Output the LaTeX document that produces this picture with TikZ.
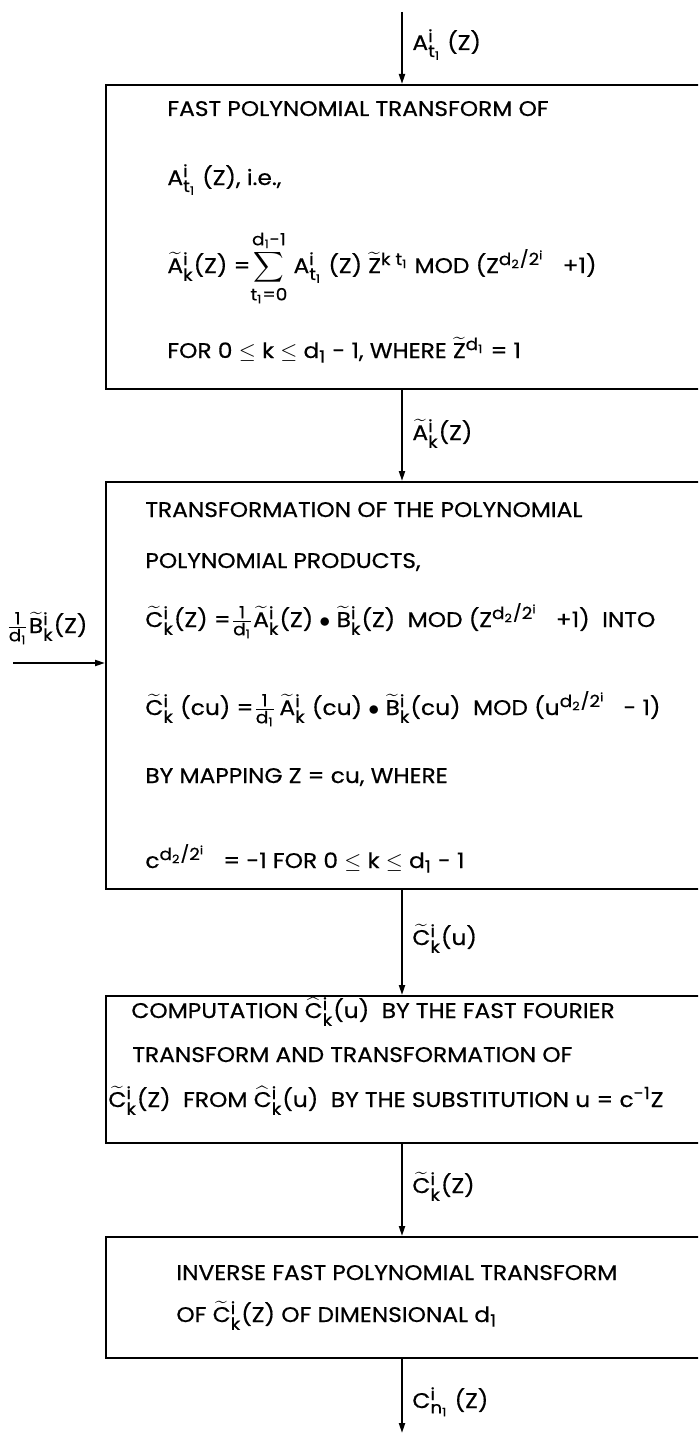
\documentclass[tikz,border=0pt]{standalone}
\usepackage{amsmath,amssymb}
\usepackage{fontspec}
\setmainfont{Poppins}[FakeStretch=1.1, FakeBold=0.5]
\DeclareMathSizes{10.6}{10.6}{8.4}{7}
\usetikzlibrary{arrows.meta,positioning}
\newcommand\spx[1]{\ensuremath{^{\text{#1}}}}
\newcommand\sbx[1]{\ensuremath{_{\text{#1}}}}
\newcommand\spb[2]{\ensuremath{^{\text{#1}}_{\text{#2}}}}
\newcommand\tld[1]{\ensuremath{\widetilde{\text{#1}}}}
\newcommand\hht[1]{\ensuremath{\widehat{\text{#1}}}}
\newcommand\frd{$\frac{\text{1}}{\text{d\sbx{1}}}$}

\begin{document}
\begin{tikzpicture}[x=0.5pt, y=-0.5pt,
    blk/.style={draw, line width=1pt, anchor=north west, inner sep=0pt, minimum width=310pt},
    txt/.style={anchor=base west, inner sep=0pt, font=\fontsize{10.6}{12}\selectfont},
    arr/.style={-{Triangle[length=5pt,width=3pt]}, line width=1pt}
]
\useasboundingbox (0,0) rectangle (698,1434);
\clip (0,0) rectangle (698,1434);

\node[blk, minimum height=152pt] (b1) at (105,84) {};
\node[blk, minimum height=203.5pt] (b2) at (105,481) {};
\node[blk, minimum height=73.5pt] (b3) at (105,995) {};
\node[blk, minimum height=60.5pt] (b4) at (105,1236) {};

\coordinate (in1) at (402,12);
\coordinate (out4) at (402,1433);
\coordinate (inB) at (13,663);

\draw[arr] (in1) -- (in1 |- b1.north);
\draw[arr] (b1.south -| in1) -- (b2.north -| in1);
\draw[arr] (b2.south -| in1) -- (b3.north -| in1);
\draw[arr] (b3.south -| in1) -- (b4.north -| in1);
\draw[arr] (b4.south -| in1) -- (out4);
\draw[arr] (inB) -- (inB -| b2.west);

\node[txt] (l1) at (412,50) {A\spb{i}{t\sbx{1}} (Z)};
\node[txt] (l2) at (412,440) {\tld{A}\spb{i}{k}(Z)};
\node[txt] (l3) at (412,945) {\tld{C}\spb{i}{k}(u)};
\node[txt] (l4) at (412,1193) {\tld{C}\spb{i}{k}(Z)};
\node[txt] (l5) at (412,1408) {C\spb{i}{n\sbx{1}} (Z)};
\node[txt] (lB) at (6,633) {\frd\tld{B}\spb{i}{k}(Z)};

\node[txt] (t11) at (167,116) {FAST POLYNOMIAL TRANSFORM OF};
\node[txt] (t12) at (167,185) {A\spb{i}{t\sbx{1}} (Z), i.e.,};
\node[txt] (t13) at (167,273) {\tld{A}\spb{i}{k}(Z) =$\displaystyle\sum\limits_{\text{t\sbx{1}=0}}^{\text{d\sbx{1}-1}}$ A\spb{i}{t\sbx{1}} (Z) \tld{Z}\spx{k t\sbx{1}} MOD (Z\spx{d\sbx{2}/2\spx{i}}\hspace{6pt} +1)};
\node[txt] (t14) at (167,358) {FOR 0 $\leq$ k $\leq$ d\sbx{1} - 1, WHERE \tld{Z}\spx{d\sbx{1}} = 1};

\node[txt] (t21) at (145,517) {TRANSFORMATION OF THE POLYNOMIAL};
\node[txt] (t22) at (145,568) {POLYNOMIAL PRODUCTS,};
\node[txt] (t23) at (145,627) {\tld{C}\spb{i}{k}(Z) =\frd\tld{A}\spb{i}{k}(Z) $\bullet$ \tld{B}\spb{i}{k}(Z) \ MOD (Z\spx{d\sbx{2}/2\spx{i}}\hspace{6pt} +1) \ INTO};
\node[txt] (t24) at (145,715) {\tld{C}\spb{i}{k} (cu) =\frd\,\tld{A}\spb{i}{k} (cu) $\bullet$ \tld{B}\spb{i}{k}(cu) \ MOD (u\spx{d\sbx{2}/2\spx{i}}\hspace{6pt} - 1)};
\node[txt] (t25) at (145,783) {BY MAPPING Z = cu, WHERE};
\node[txt] (t26) at (145,868) {c\spx{d\sbx{2}/2\spx{i}}\hspace{6pt} = -1 FOR 0 $\leq$ k $\leq$ d\sbx{1} - 1};

\node[txt] (t31) at (131,1018) {COMPUTATION \hht{C}\spb{i}{k}(u) \ BY THE FAST FOURIER};
\node[txt] (t32) at (132,1062) {TRANSFORM AND TRANSFORMATION OF};
\node[txt] (t33) at (108,1107) {\tld{C}\spb{i}{k}(Z) \ FROM \hht{C}\spb{i}{k}(u) \ BY THE SUBSTITUTION u = c\spx{-1}Z};

\node[txt] (t41) at (176,1280) {INVERSE FAST POLYNOMIAL TRANSFORM};
\node[txt] (t42) at (176,1322) {OF \tld{C}\spb{i}{k}(Z) OF DIMENSIONAL d\sbx{1}};
\end{tikzpicture}
\end{document}
